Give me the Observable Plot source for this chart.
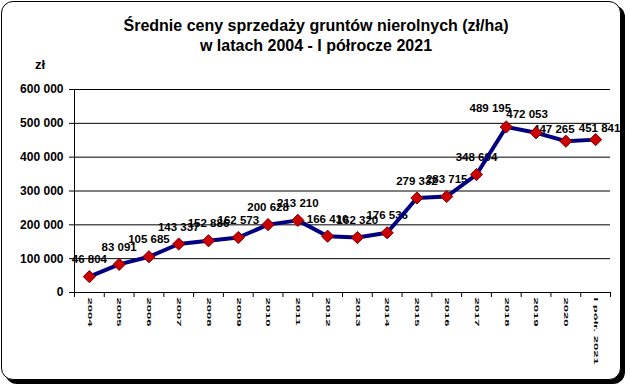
<!DOCTYPE html>
<html>
<head>
<meta charset="utf-8">
<script src="https://cdn.jsdelivr.net/npm/d3@7"></script>
<script src="https://cdn.jsdelivr.net/npm/@observablehq/plot@0.6"></script>
<style>
  html, body { margin: 0; padding: 0; background: #fff; }
  body { width: 630px; height: 389px; position: relative; overflow: hidden; font-family: "Liberation Sans", Arial, sans-serif; }
  #frame { position: absolute; left: 1px; top: 1px; width: 618px; height: 377px; border: 1.5px solid #000; border-radius: 12px; box-shadow: 4px 4px 0 #000; background: #fff; }
  #title { position: absolute; left: 0; width: 632px; top: 16px; text-align: center; font-weight: bold; font-size: 16px; line-height: 19.5px; color: #000; }
  #unit { position: absolute; left: 35px; top: 57px; font-weight: bold; font-size: 13px; }
  #chart { position: absolute; left: 0; top: 0; }
</style>
</head>
<body>
<div id="frame"></div>
<div id="title">Średnie ceny sprzedaży gruntów nierolnych (zł/ha)<br>w latach 2004 - I półrocze 2021</div>
<div id="unit">zł</div>
<div id="chart"></div>
<script>
const years = ["2004","2005","2006","2007","2008","2009","2010","2011","2012","2013","2014","2015","2016","2017","2018","2019","2020","I półr. 2021"];
const prices = [46804, 83091, 105685, 143337, 152886, 162573, 200628, 213210, 166410, 162320, 176536, 279332, 283715, 348694, 489195, 472053, 447265, 451841];
const yTicks = [0, 100000, 200000, 300000, 400000, 500000, 600000];

const data = years.map((y, i) => ({i, year: y, value: prices[i]}));
const fmt = v => d3.format(",")(v).replace(/,/g, " ");
const bounds = d3.range(-0.5, years.length, 1);
const labelStyle = {x: "i", y: "value", text: d => fmt(d.value), fontSize: 11.5, fontWeight: "bold", fill: "#000"};

const chart = Plot.plot({
  width: 630,
  height: 389,
  marginLeft: 74,
  marginRight: 20,
  marginTop: 89,
  marginBottom: 97,
  style: {background: "transparent", fontFamily: "Liberation Sans, Arial, sans-serif", color: "#000"},
  x: {type: "linear", domain: [-0.5, years.length - 0.5]},
  y: {domain: [0, 600000]},
  marks: [
    Plot.ruleY(yTicks, {stroke: "#000", strokeWidth: 1}),
    Plot.ruleX([-0.5], {stroke: "#000", strokeWidth: 1}),
    Plot.axisY({ticks: yTicks, tickSize: 5, tickPadding: 6, tickFormat: fmt, label: null, fontSize: 12, fontWeight: "bold"}),
    Plot.axisX({ticks: bounds, tickSize: 5, tickFormat: () => "", label: null}),
    Plot.axisX({ticks: d3.range(years.length), tickSize: 0, tickPadding: 5, tickRotate: 90, tickFormat: i => years[i], label: null, fontSize: 9, fontWeight: "bold"}),
    Plot.text(data, {...labelStyle, filter: d => d.i < 14, dy: -17}),
    Plot.text(data, {...labelStyle, filter: d => d.i === 14, dx: -16, dy: -19}),
    Plot.text(data, {...labelStyle, filter: d => d.i === 15, dx: -9, dy: -18}),
    Plot.text(data, {...labelStyle, filter: d => d.i === 16, dx: -12, dy: -12}),
    Plot.text(data, {...labelStyle, filter: d => d.i === 17, dx: 4, dy: -11}),
    Plot.line(data, {x: "i", y: "value", stroke: "#000080", strokeWidth: 4}),
    Plot.dot(data, {x: "i", y: "value", symbol: "diamond2", r: 5.5, fill: "#cc0000", stroke: "#7a0000", strokeWidth: 1})
  ]
});
document.getElementById("chart").appendChild(chart);
// stretch rotated year labels like the original
chart.querySelectorAll("g[aria-label='x-axis tick label'] text").forEach(t => {
  const tr = t.getAttribute("transform") || "";
  t.setAttribute("transform", tr + " scale(1.45,0.6)");
});
</script>
</body>
</html>
